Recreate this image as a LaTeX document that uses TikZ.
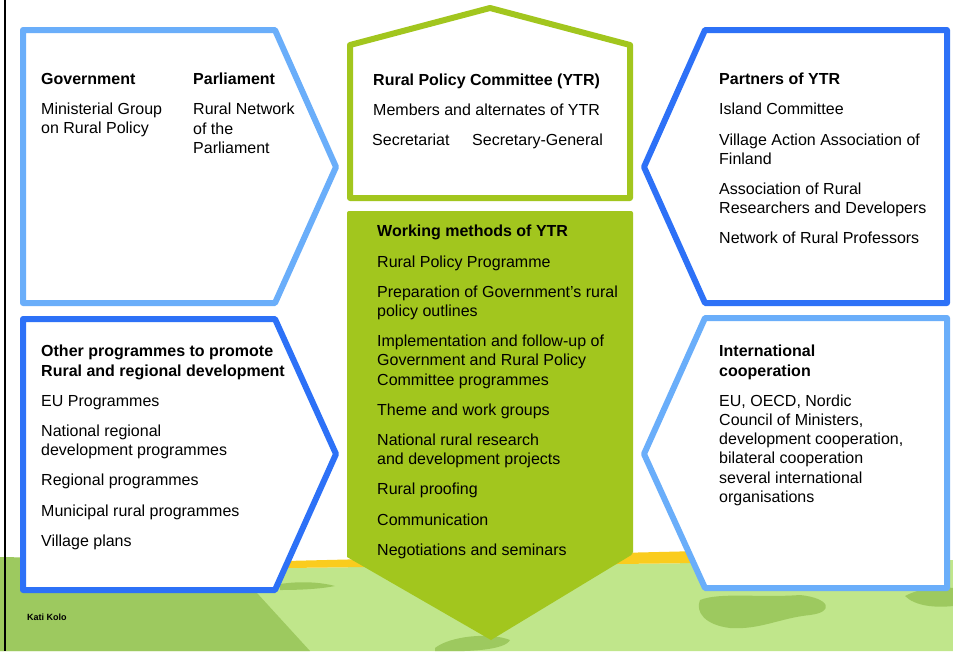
\documentclass[tikz,border=0pt]{standalone}
\usepackage{fontspec}
\setmainfont{Liberation Sans}
\usepackage{tikz}
\usetikzlibrary{positioning}
\definecolor{ytrgreen}{RGB}{162,198,30}
\definecolor{lightblue}{RGB}{106,174,250}
\definecolor{darkblue}{RGB}{45,113,247}
\definecolor{fielddark}{RGB}{157,201,95}
\definecolor{fieldlight}{RGB}{192,230,139}
\definecolor{horizon}{RGB}{250,204,30}
\tikzset{
  panel/.style={line width=6pt, line join=round, fill=white, draw=#1},
  txt/.style={anchor=north west, inner sep=0pt, align=left,
    font=\fontsize{16}{19.2}\selectfont},
}

\begin{document}
\begin{tikzpicture}[x=1pt,y=-1pt]
\useasboundingbox (0,0) rectangle (953,651);
\fill[white] (0,0) rectangle (953,651);
% landscape
\fill[fieldlight] (0,565) -- (285,568) -- (700,563) -- (953,560) -- (953,651) -- (0,651) -- cycle;
\fill[horizon] (285,561) -- (700,551) -- (700,563) -- (285,568) -- cycle;
\fill[fielddark] (0,557) -- (290,562) -- (257,593) -- (310,651) -- (0,651) -- cycle;
\fill[fielddark] (280,584) .. controls (300,581) and (320,582) .. (335,586) .. controls (320,589) and (300,590) .. (280,590) -- cycle;
\fill[fielddark] (700,600) .. controls (720,592) and (760,598) .. (800,595) .. controls (830,598) and (835,612) .. (810,615) .. controls (780,618) and (760,630) .. (730,628) .. controls (705,625) and (695,612) .. (700,600) -- cycle;
\fill[fielddark] (905,596) .. controls (920,588) and (940,586) .. (953,588) -- (953,606) .. controls (935,608) and (915,606) .. (905,596) -- cycle;
\fill[fielddark] (435,648) .. controls (450,636) and (490,632) .. (510,640) .. controls (505,650) and (470,652) .. (435,651) -- cycle;
\draw[line width=1.5pt] (5,0) -- (5,651);

% boxes
\draw[panel=lightblue] (23,30) -- (275,30) -- (336,167) -- (275,303) -- (23,303) -- cycle;
\draw[panel=darkblue] (23,319) -- (275,319) -- (336,454) -- (275,590) -- (23,590) -- cycle;
\draw[panel=darkblue] (705,30) -- (947,30) -- (947,303) -- (705,303) -- (644,167) -- cycle;
\draw[panel=lightblue] (705,318) -- (947,318) -- (947,588) -- (705,588) -- (644,454) -- cycle;
\draw[panel=ytrgreen] (350,198) -- (350,45) -- (490,8) -- (630,45) -- (630,198) -- cycle;
\fill[ytrgreen, rounded corners=2pt] (347,557) -- (347,211) -- (633,211) -- (633,554) [sharp corners] -- (491,640) -- cycle;

% texts
\node[txt] (gov) at (41,73) {\textbf{Government}\\[11pt]Ministerial Group\\on Rural Policy};
\node[txt] (parl) at (193,73) {\textbf{Parliament}\\[11pt]Rural Network\\of the\\Parliament};
\node[txt] (ytr) at (373,74) {\textbf{Rural Policy Committee (YTR)}\\[11pt]Members and alternates of YTR};
\node[txt] (secr) at (372,134) {Secretariat};
\node[txt] (secg) at (472,134) {Secretary-General};
\node[txt] (methods) at (377,225) {\textbf{Working methods of YTR}\\[11pt]
  Rural Policy Programme\\[11pt]
  Preparation of Government's rural\\policy outlines\\[11pt]
  Implementation and follow-up of\\Government and Rural Policy\\Committee programmes\\[11pt]
  Theme and work groups\\[11pt]
  National rural research\\and development projects\\[11pt]
  Rural proofing\\[11pt]
  Communication\\[11pt]
  Negotiations and seminars};
\node[txt] (partners) at (719,73) {\textbf{Partners of YTR}\\[11pt]
  Island Committee\\[11pt]
  Village Action Association of\\Finland\\[11pt]
  Association of Rural\\Researchers and Developers\\[11pt]
  Network of Rural Professors};
\node[txt] (progs) at (41,345) {\textbf{Other programmes to promote}\\\textbf{Rural and regional development}\\[11pt]
  EU Programmes\\[11pt]
  National regional\\development programmes\\[11pt]
  Regional programmes\\[11pt]
  Municipal rural programmes\\[11pt]
  Village plans};
\node[txt] (intl) at (719,345) {\textbf{International}\\\textbf{cooperation}\\[11pt]
  EU, OECD, Nordic\\Council of Ministers,\\development cooperation,\\bilateral cooperation\\several international\\organisations};
\node[anchor=west, inner sep=0pt, font=\fontsize{9}{10}\selectfont\bfseries] (author) at (27,617) {Kati Kolo};
\end{tikzpicture}
\end{document}
